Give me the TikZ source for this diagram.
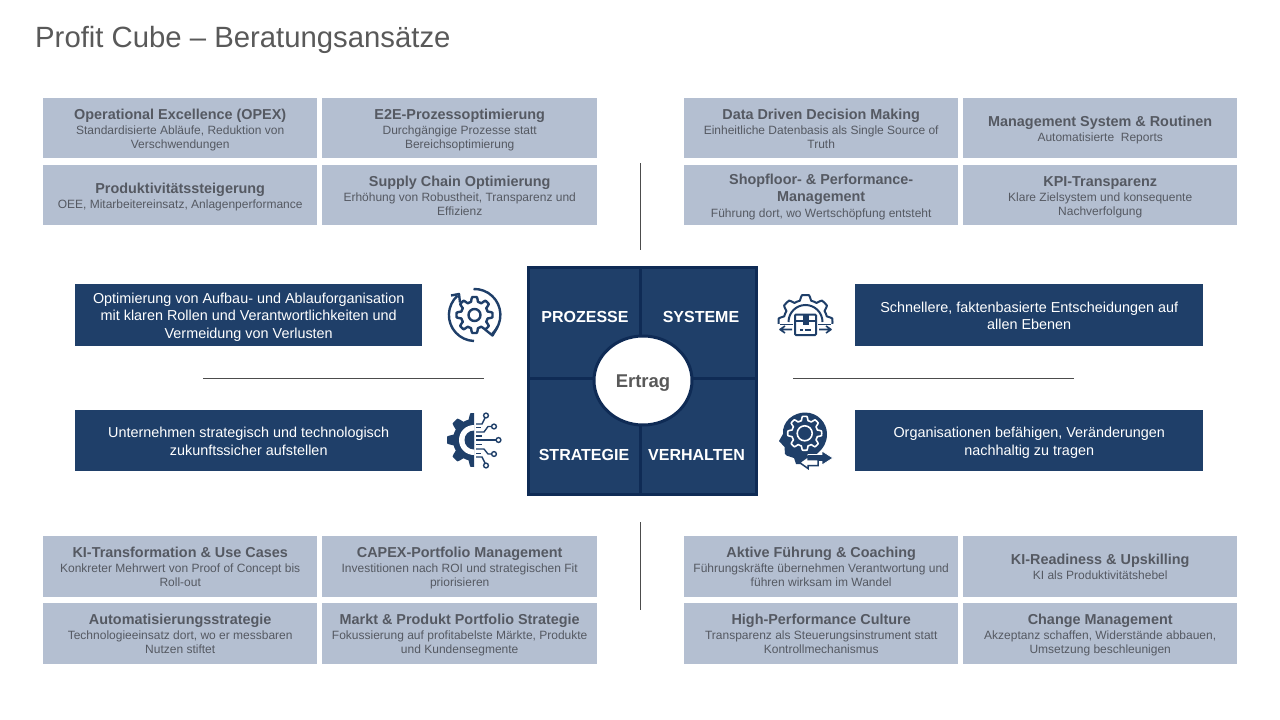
\documentclass[tikz,border=0pt]{standalone}
\usepackage{fontspec}
\setmainfont{Liberation Sans}
\usetikzlibrary{shapes.geometric}
\definecolor{tile}{HTML}{B4BFD1}
\definecolor{navy}{HTML}{1F3F69}
\definecolor{deep}{HTML}{0F2B55}
\definecolor{ink}{HTML}{555962}
\definecolor{titleink}{HTML}{595959}
\tikzset{
 tilebox/.style={fill=tile,anchor=north west,inner sep=0pt,align=center,text=ink,font=\fontsize{12}{14}\selectfont},
 barbox/.style={fill=navy,anchor=north west,inner sep=0pt,align=center,text=white,font=\fontsize{14.4}{17.5}\selectfont},
 rule/.style={draw=black!70,line width=.8pt},
 quad/.style={text=white,font=\fontsize{16}{18}\bfseries\selectfont},
 iconline/.style={draw=navy,line width=2.4pt},
 thinicon/.style={draw=navy,line width=1.5pt},
}
\newcommand{\tl}[1]{{\fontsize{14.4}{15}\bfseries\selectfont #1}}
\newcommand{\topst}{\rule{0pt}{14.5pt}}
\newcommand{\botst}{\rule[-3.5pt]{0pt}{1pt}}
\newcommand{\bartop}{\rule{0pt}{15pt}}
% name, x, y, w, h, title, sub
\newcommand{\tileat}[7]{\node[tilebox,minimum width=#4pt,minimum height=#5pt] (#1) at (#2,#3) {\topst\tl{#6}\\[1pt]#7\botst};}
\newcommand{\gearplot}[6]{% opts, cx, cy, rout, rin, teeth
 \path[#1] plot[domain=0:360,samples=145,variable=\t] ({#2+(#5+(#4-#5)*(0.5+0.5*max(-1,min(1,2.2*cos(#6*\t)))))*cos(\t)},{#3+(#5+(#4-#5)*(0.5+0.5*max(-1,min(1,2.2*cos(#6*\t)))))*sin(\t)}) -- cycle;}
\begin{document}
\begin{tikzpicture}[x=1pt,y=-1pt]
\useasboundingbox (0,0) rectangle (1280,720);
\fill[white] (0,0) rectangle (1280,720);
\node[anchor=west,inner sep=0pt,text=titleink,font=\fontsize{29.3}{32}\selectfont] (title) at (35,40) {Profit Cube – Beratungsansätze};
% tiles top left
\tileat{a1}{43}{98}{274}{60}{Operational Excellence (OPEX)}{Standardisierte Abläufe, Reduktion von\\Verschwendungen}
\tileat{a2}{322}{98}{275}{60}{E2E-Prozessoptimierung}{Durchgängige Prozesse statt\\Bereichsoptimierung}
\tileat{a3}{43}{165}{274}{60}{Produktivitätssteigerung}{OEE, Mitarbeitereinsatz, Anlagenperformance}
\tileat{a4}{322}{165}{275}{60}{Supply Chain Optimierung}{Erhöhung von Robustheit, Transparenz und\\Effizienz}
% top right
\tileat{b1}{684}{98}{274}{60}{Data Driven Decision Making}{Einheitliche Datenbasis als Single Source of\\Truth}
\tileat{b2}{963}{98}{274}{60}{Management System \& Routinen}{Automatisierte\ \ Reports}
\node[tilebox,minimum width=274pt,minimum height=60pt] (b3) at (684,165) {\topst\tl{Shopfloor- \& Performance-}\\[3pt]\tl{Management}\\[2pt]Führung dort, wo Wertschöpfung entsteht\botst};
\tileat{b4}{963}{165}{274}{60}{KPI-Transparenz}{Klare Zielsystem und konsequente\\Nachverfolgung}
% bottom left
\tileat{c1}{43}{536}{274}{61}{KI-Transformation \& Use Cases}{Konkreter Mehrwert von Proof of Concept bis\\Roll-out}
\tileat{c2}{322}{536}{275}{61}{CAPEX-Portfolio Management}{Investitionen nach ROI und strategischen Fit\\priorisieren}
\tileat{c3}{43}{603}{274}{61}{Automatisierungsstrategie}{Technologieeinsatz dort, wo er messbaren\\Nutzen stiftet}
\tileat{c4}{322}{603}{275}{61}{Markt \& Produkt Portfolio Strategie}{Fokussierung auf profitabelste Märkte, Produkte\\und Kundensegmente}
% bottom right
\tileat{d1}{684}{536}{274}{61}{Aktive Führung \& Coaching}{Führungskräfte übernehmen Verantwortung und\\führen wirksam im Wandel}
\tileat{d2}{963}{536}{274}{61}{KI-Readiness \& Upskilling}{KI als Produktivitätshebel}
\tileat{d3}{684}{603}{274}{61}{High-Performance Culture}{Transparenz als Steuerungsinstrument statt\\Kontrollmechanismus}
\tileat{d4}{963}{603}{274}{61}{Change Management}{Akzeptanz schaffen, Widerstände abbauen,\\Umsetzung beschleunigen}
% bars
\node[barbox,minimum width=347pt,minimum height=62pt] (bar1) at (75,284) {\bartop Optimierung von Aufbau- und Ablauforganisation\\mit klaren Rollen und Verantwortlichkeiten und\\Vermeidung von Verlusten\botst};
\node[barbox,minimum width=347pt,minimum height=61pt] (bar2) at (75,410) {\bartop Unternehmen strategisch und technologisch\\zukunftssicher aufstellen\botst};
\node[barbox,minimum width=348pt,minimum height=62pt] (bar3) at (855,284) {\bartop Schnellere, faktenbasierte Entscheidungen auf\\allen Ebenen\botst};
\node[barbox,minimum width=348pt,minimum height=61pt] (bar4) at (855,410) {\bartop Organisationen befähigen, Veränderungen\\nachhaltig zu tragen\botst};
% separators
\draw[rule] (640.5,163) -- (640.5,250);
\draw[rule] (640.5,522) -- (640.5,610);
\draw[rule] (203,378.5) -- (484,378.5);
\draw[rule] (793,378.5) -- (1074,378.5);
% cube
\draw[fill=navy,draw=deep,line width=3pt] (528.5,267.5) rectangle (756.5,494.5);
\draw[deep,line width=3pt] (640.5,267) -- (640.5,495);
\draw[deep,line width=3pt] (528,378) -- (757,378);
\node[ellipse,fill=white,draw=deep,line width=3pt,minimum width=98pt,minimum height=89pt,inner sep=0pt,text=titleink,font=\fontsize{18.5}{20}\bfseries\selectfont] (ertrag) at (643,380.5) {\raisebox{-6.5pt}[0pt][0pt]{Ertrag}};
\node[quad] (q1) at (585,317.2) {PROZESSE};
\node[quad] (q2) at (701,317.2) {SYSTEME};
\node[quad] (q3) at (584,454.7) {STRATEGIE};
\node[quad] (q4) at (696.5,454.7) {VERHALTEN};
% icon 1: cycle gear
\gearplot{thinicon,line width=2.4pt,line join=round}{474.5}{315}{18}{13.5}{8}
\draw[iconline] (474.5,315) circle (6);
\draw[iconline] (473.5,289) arc (-92:47:26);
\draw[iconline] (474,341) arc (92:228:26);
\draw[iconline,line join=round] (485,329.5) -- (492.5,335.5) -- (497.5,327);
\draw[iconline,line join=round] (451,295.5) -- (459,294) -- (460,302.5);
% icon 2: AI gear
\begin{scope}
\clip (445,410) rectangle (474,470);
\gearplot{fill=navy}{474}{440}{27}{21}{8}
\fill[white] (474,440) circle (15);
\fill[navy] (474,440) circle (9.5);
\end{scope}
\begin{scope}[thinicon,line width=1.4pt]
\draw (476,424) -- (482,424) -- (485,418);
\draw (476,427.5) -- (481,427.5);
\draw (476,432) -- (484,432) -- (488,426.5) -- (491.5,426.5);
\draw (476,440) -- (496,440);
\draw (476,436) -- (482,436);
\draw (476,444.5) -- (482,444.5);
\draw (476,449) -- (484,449) -- (488,454) -- (491.5,454);
\draw (476,457) -- (482,457) -- (485,463);
\draw (476,453.5) -- (481,453.5);
\draw (486,415.5) circle (2.4);
\draw (494,426.5) circle (2.4);
\draw (498.5,440) circle (2.4);
\draw (494,454) circle (2.4);
\draw (486,465.5) circle (2.4);
\end{scope}
% icon 3: logistics gear
\begin{scope}
\clip (775,290) rectangle (835,323);
\gearplot{thinicon,line width=2pt,line join=round}{805.5}{322}{27}{22}{8}
\end{scope}
\begin{scope}[thinicon,line width=2pt]
\draw (788.5,322) arc (180:360:17);
\draw[fill=white,rounded corners=1pt] (795,314.5) rectangle (816,335);
\draw (795,321) -- (816,321);
\fill[navy] (802.5,314.5) rectangle (808.5,325);
\draw[line width=1.4pt] (800,330) -- (803,330);
\draw[line width=1.4pt] (805,330) -- (811,330);
\draw[line width=1.6pt,line join=round] (792,329.5) -- (781,329.5) (785,326) -- (780,329.5) -- (785,333);
\draw[line width=1.6pt,line join=round] (819,329.5) -- (830,329.5) (826,326) -- (831,329.5) -- (826,333);
\draw[line width=1.6pt] (780,324.5) -- (793,324.5);
\draw[line width=1.6pt] (818,324.5) -- (831,324.5);
\end{scope}
% icon 4: head
\fill[navy] (796,464) -- (794,458) .. controls (791,456) and (787,457) .. (785,454)
 -- (784.5,447) -- (779,441) -- (783,434)
 .. controls (782,421) and (794,412.5) .. (805,412.5)
 .. controls (818,412.5) and (827,423) .. (827,434)
 .. controls (827,443) and (823,448) .. (819,452) -- (812,458) -- (805,464) -- cycle;
\gearplot{draw=white,line width=1.6pt,line join=round}{804.7}{433.3}{17}{13}{8}
\draw[white,line width=1.6pt] (804.7,433.3) circle (7.5);
\fill[navy,draw=white,line width=.8pt] (808,454.5) -- (822,454.5) -- (822,451) -- (833,458) -- (822,465) -- (822,461.5) -- (808,461.5) -- cycle;
\fill[white,draw=navy,line width=1.5pt] (818,459.5) -- (808,459.5) -- (808,456.5) -- (799.5,462.5) -- (808,468.5) -- (808,465.5) -- (818,465.5) -- cycle;
\end{tikzpicture}
\end{document}
